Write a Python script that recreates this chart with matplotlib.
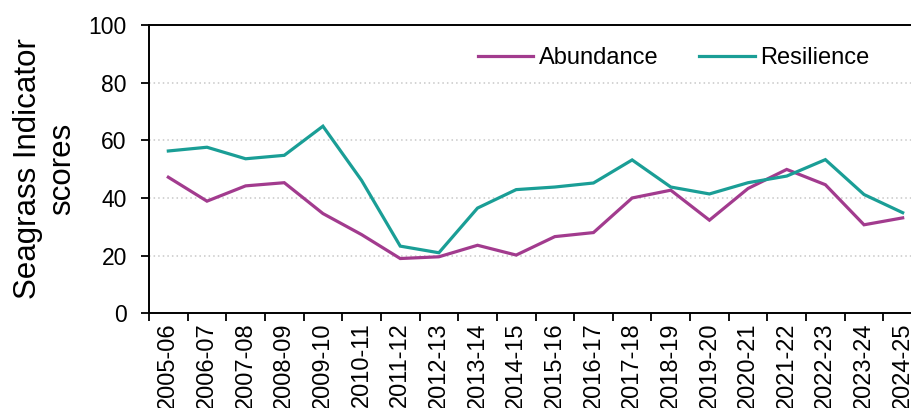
import matplotlib
matplotlib.use("Agg")
import matplotlib.pyplot as plt
import numpy as np

plt.rcParams['font.family'] = ['Liberation Sans', 'DejaVu Sans']

years = ["2005-06", "2006-07", "2007-08", "2008-09", "2009-10", "2010-11",
         "2011-12", "2012-13", "2013-14", "2014-15", "2015-16", "2016-17",
         "2017-18", "2018-19", "2019-20", "2020-21", "2021-22", "2022-23",
         "2023-24", "2024-25"]
abundance = [47.2, 38.9, 44.2, 45.3, 34.6, 27.3, 19.0, 19.6, 23.6, 20.2,
             26.6, 28.0, 40.0, 42.7, 32.3, 43.3, 49.9, 44.6, 30.7, 33.1]
resilience = [56.3, 57.6, 53.6, 54.8, 64.9, 46.1, 23.3, 21.0, 36.5, 42.9,
              43.8, 45.2, 53.2, 43.8, 41.4, 45.3, 47.6, 53.3, 41.2, 34.9]
yticks = [0, 20, 40, 60, 80, 100]

W, H = 912, 408
fig = plt.figure(figsize=(W / 100, H / 100), dpi=100)
ax = fig.add_axes([149 / W, 1 - 313.3 / H, 773 / W, 288.3 / H])

x = np.arange(len(years))
c_ab = "#A23B8E"
c_re = "#1A9E96"
ax.plot(x, abundance, color=c_ab, lw=2.3, label="Abundance", solid_joinstyle='miter')
ax.plot(x, resilience, color=c_re, lw=2.3, label="Resilience", solid_joinstyle='miter')

ax.set_xlim(-0.5, len(years) - 0.5)
ax.set_ylim(0, 100)
ax.set_yticks(yticks)
for v in yticks[1:-1]:
    ax.axhline(v, color="#C8C8C8", lw=1.1, ls=(0, (1, 2)), zorder=0)

ax.set_xticks(x)
ax.set_xticklabels(years, rotation=90, fontsize=17)
ax.set_xticks(np.arange(-0.5, len(years) + 0.5, 1), minor=True)
ax.tick_params(axis='x', which='major', length=0, pad=6.5)
ax.tick_params(axis='x', which='minor', length=6, width=1.3, direction='out')
ax.tick_params(axis='y', labelsize=16.5, length=6, width=1.3, direction='out', pad=10)

for s in ['left', 'bottom', 'top']:
    ax.spines[s].set_linewidth(1.4)
    ax.spines[s].set_color('black')
ax.spines['right'].set_visible(False)

fig.text(45 / W, 1 - 169 / H, "Seagrass Indicator\nscores", rotation=90,
         ha='center', va='center', multialignment='center', fontsize=22.5,
         linespacing=1.2)

leg = ax.legend(loc='center left', bbox_to_anchor=(478 / W, 1 - 58 / H),
                bbox_transform=fig.transFigure, ncol=2, frameon=False,
                fontsize=17, handlelength=2.35, handletextpad=0.25,
                columnspacing=1.7, borderpad=0, borderaxespad=0)

fig.savefig("out.png", dpi=100)
